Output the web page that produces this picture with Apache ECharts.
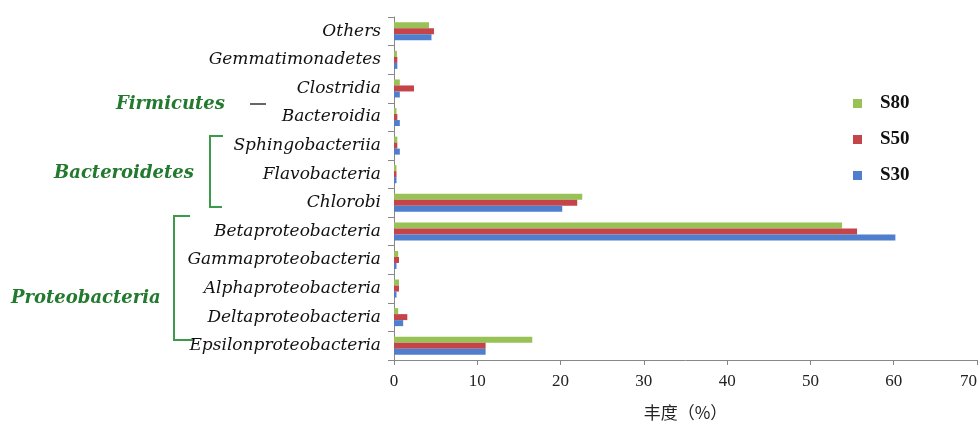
<!DOCTYPE html>
<html>
<head>
<meta charset="utf-8">
<script src="https://cdn.jsdelivr.net/npm/echarts@6/dist/echarts.min.js"></script>
<style>
html,body{margin:0;padding:0;background:#fff;}
#c{width:978px;height:421px;}
</style>
</head>
<body>
<div id="c"></div>
<script>
// categories listed bottom-to-top
var categories = ['Epsilonproteobacteria','Deltaproteobacteria','Alphaproteobacteria','Gammaproteobacteria','Betaproteobacteria','Chlorobi','Flavobacteria','Sphingobacteriia','Bacteroidia','Clostridia','Gemmatimonadetes','Others'];
var s30 = [11.0, 1.1, 0.3, 0.3, 60.2, 20.2, 0.3, 0.7, 0.7, 0.7, 0.4, 4.5];
var s50 = [11.0, 1.6, 0.6, 0.6, 55.6, 22.0, 0.3, 0.4, 0.4, 2.4, 0.4, 4.8];
var s80 = [16.6, 0.5, 0.6, 0.5, 53.8, 22.6, 0.3, 0.4, 0.3, 0.7, 0.35, 4.2];
var seriesNames = ['S80','S50','S30'];
var legendOrder = ['S80','S50','S30'];
var xMin = 0, xMax = 70, xStep = 10;
var xAxisTitle = '丰度（%）';
var groups = ['Firmicutes','Bacteroidetes','Proteobacteria'];

var colors = {S30:'#4f7fcc', S50:'#c4444a', S80:'#98c255'};
var green = '#237a2e', lineGreen = '#3d9a4c';

var chart = echarts.init(document.getElementById('c'));
var dataSets = {S30:s30, S50:s50, S80:s80};
var series = seriesNames.map(function(n){
  return {name:n, type:'bar', data:dataSets[n], barWidth:6, barGap:'0%',
    itemStyle:{color:colors[n]}};
});

var groupFont = 'italic bold 18px "DejaVu Serif"';
chart.setOption({
  animation:false,
  backgroundColor:'#fff',
  grid:{left:394, right:1, top:17, bottom:61, outerBoundsMode:'none'},
  legend:{orient:'vertical', left:848, top:89, itemWidth:9, itemHeight:9, itemGap:17,
    icon:'rect', data:legendOrder,
    textStyle:{fontFamily:'Liberation Serif', fontWeight:'bold', fontSize:19, color:'#111', padding:[0,0,0,13]}},
  xAxis:{type:'value', min:xMin, max:xMax, interval:xStep,
    name:xAxisTitle, nameLocation:'middle', nameGap:44,
    nameTextStyle:{fontFamily:'"Noto Sans CJK SC"', fontSize:17, color:'#222'},
    axisLine:{show:true, lineStyle:{color:'#888', width:1}},
    axisTick:{show:true, length:5, lineStyle:{color:'#888'}},
    axisLabel:{fontFamily:'Liberation Serif', fontSize:17, color:'#222', margin:13, alignMaxLabel:'right'},
    splitLine:{show:false}},
  yAxis:{type:'category', data:categories,
    axisLine:{show:true, lineStyle:{color:'#888', width:1}},
    axisTick:{show:true, length:6, lineStyle:{color:'#888'}},
    axisLabel:{fontFamily:'DejaVu Serif', fontStyle:'italic', fontSize:17, color:'#111', margin:13}},
  series:series,
  graphic:[
    {type:'text', style:{x:116, y:104, text:groups[0], font:groupFont, fill:green, textVerticalAlign:'middle'}},
    {type:'line', shape:{x1:250,y1:104,x2:266,y2:104}, style:{stroke:'#333', lineWidth:1.5}},
    {type:'text', style:{x:54, y:173, text:groups[1], font:groupFont, fill:green, textVerticalAlign:'middle'}},
    {type:'polyline', shape:{points:[[223,136],[210,136],[210,207],[222,207]]}, style:{stroke:lineGreen, lineWidth:2, fill:null}},
    {type:'text', style:{x:11, y:298, text:groups[2], font:groupFont, fill:green, textVerticalAlign:'middle'}},
    {type:'polyline', shape:{points:[[190,216],[174,216],[174,340],[193,340]]}, style:{stroke:lineGreen, lineWidth:2, fill:null}}
  ]
});
</script>
</body>
</html>
